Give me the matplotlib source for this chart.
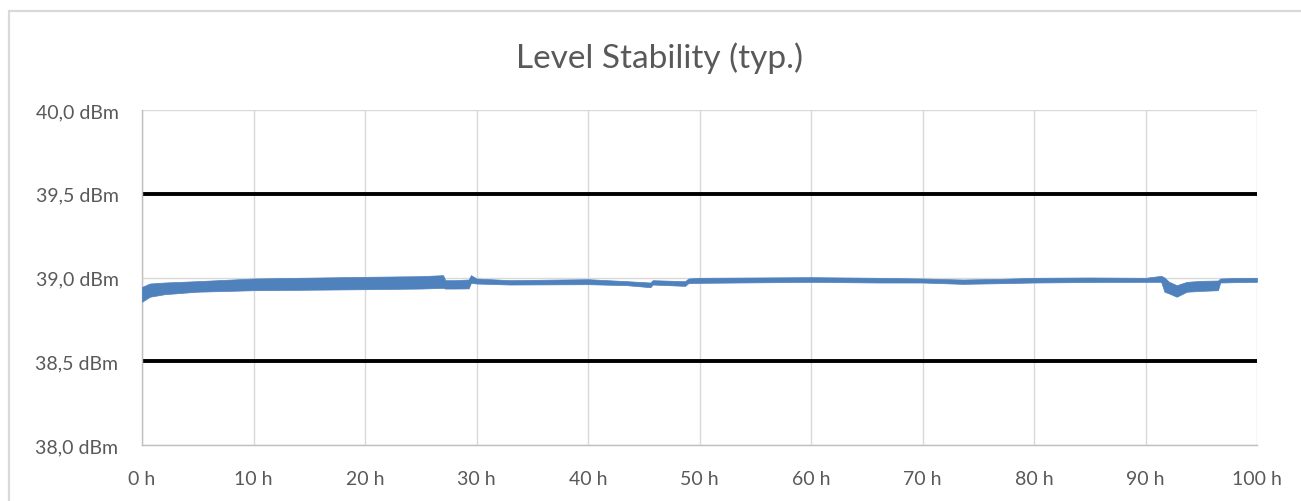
import numpy as np
import matplotlib
matplotlib.use("Agg")
import matplotlib.pyplot as plt
from matplotlib.patches import Rectangle
from matplotlib.ticker import FuncFormatter, MultipleLocator

plt.rcParams['font.family'] = ['Lato', 'DejaVu Sans']

# measured level, lower / upper edge of the noisy trace (dBm) over time (h)
hours = [0, 0.7, 2, 4.9, 10, 15, 20, 25, 27, 27.2, 28, 29.3, 29.5, 30, 33,
         40, 43.5, 45.6, 45.8, 48.7, 49, 50, 55, 60, 66, 70, 73.6, 77, 80,
         85, 90, 91.4, 91.7, 92.1, 92.8, 93.7, 95, 96.5, 96.7, 98, 100]
level_low = [38.855, 38.885, 38.900, 38.915, 38.924, 38.927, 38.930, 38.934,
             38.938, 38.934, 38.934, 38.935, 38.968, 38.964, 38.958,
             38.960, 38.954, 38.942, 38.958, 38.950, 38.966, 38.968, 38.971,
             38.974, 38.970, 38.970, 38.962, 38.966, 38.970,
             38.973, 38.974, 38.974, 38.915, 38.905, 38.885, 38.915, 38.920,
             38.924, 38.970, 38.972, 38.974]
level_high = [38.944, 38.964, 38.970, 38.978, 38.994, 38.999, 39.004, 39.008,
              39.014, 38.984, 38.984, 38.988, 39.014, 38.994, 38.984,
              38.990, 38.978, 38.970, 38.984, 38.978, 38.994, 38.998, 39.000,
              39.002, 38.998, 38.994, 38.988, 38.992, 38.998,
              39.000, 38.998, 39.010, 39.000, 38.975, 38.954, 38.974, 38.980,
              38.982, 38.994, 38.997, 38.998]

limit_levels = [39.5, 38.5]
x_ticks = np.arange(0, 101, 10)

W, H = 1301, 502
fig = plt.figure(figsize=(W / 100, H / 100), dpi=100)
ax = fig.add_axes([142 / W, 1 - 446 / H, (1257 - 142) / W, (446 - 111) / H])

# chart area border (runs off the right/bottom edge)
fig.patches.append(Rectangle((9 / W, -0.2), 1.2, 1.2 - 12 / H,
                             transform=fig.transFigure, fill=False,
                             edgecolor='#d9d9d9', linewidth=1.6, zorder=0))

ax.fill_between(hours, level_low, level_high, color='#4f81bd',
                linewidth=0.5, edgecolor='#4f81bd', zorder=3)

for lv in limit_levels:
    ax.axhline(lv, color='black', linewidth=2.8, zorder=2)

ax.set_xlim(0, 100)
ax.set_ylim(38.0, 40.0)
ax.set_xticks(x_ticks)
ax.yaxis.set_major_locator(MultipleLocator(0.5))
ax.xaxis.set_major_formatter(FuncFormatter(lambda v, p: f"{int(round(v))} h"))
ax.yaxis.set_major_formatter(FuncFormatter(lambda v, p: f"{v:.1f} dBm".replace('.', ',')))

ax.grid(True, color='#d9d9d9', linewidth=1.0, zorder=1)
ax.set_axisbelow(True)
for s in ['top', 'right']:
    ax.spines[s].set_visible(False)
for s in ['left', 'bottom']:
    ax.spines[s].set_color('#bfbfbf')
    ax.spines[s].set_linewidth(1.0)

ax.tick_params(axis='both', length=0, labelsize=14, labelcolor='#595959')
ax.tick_params(axis='x', pad=18)
ax.tick_params(axis='y', pad=17)

fig.text(660 / W, 1 - 58 / H, "Level Stability (typ.)", ha='center', va='center',
         fontsize=24, color='#595959')

fig.savefig("out.png", dpi=100)
